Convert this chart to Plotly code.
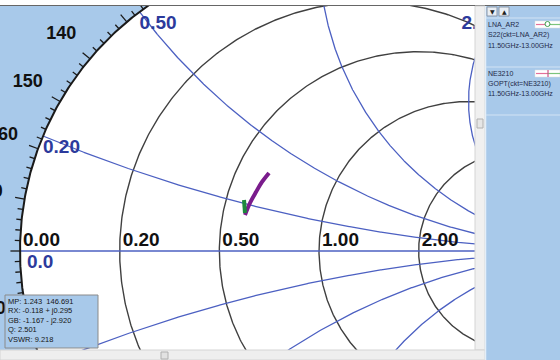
import numpy as np
import plotly.graph_objects as go

# ---------------------------------------------------------------- data
# Smith chart grid values
r_grid = [0.2, 0.5, 1.0, 2.0, 5.0]          # constant-resistance circles
x_grid = [0.2, 0.5, 1.0, 2.0, 5.0]          # constant-reactance arcs (+/-)
r_axis_values = [0.0, 0.2, 0.5, 1.0, 2.0]   # labelled along the real axis
r_axis_labels = ["0.00", "0.20", "0.50", "1.00", "2.00"]
x_label_values = [0.2, 0.5, 2.0]
x_label_texts = ["0.20", "0.50", "2.00"]
angle_label_values = [140, 150, 160, 170, -170]

# S22 of LNA_AR2, 11.5-13 GHz (reflection coefficient, real / imag)
s22_re = [-0.2475, -0.2308, -0.2107, -0.1906, -0.1672]
s22_im = [0.1204, 0.1605, 0.1973, 0.2308, 0.2609]

# GOPT of NE3210, 11.5-13 GHz
gopt_re = [-0.2508, -0.2492, -0.2475]
gopt_im = [0.1706, 0.1505, 0.1271]

legend_entries = [
    ("LNA_AR2", "S22(ckt=LNA_AR2)", "11.50GHz-13.00GHz"),
    ("NE3210", "GOPT(ckt=NE3210)", "11.50GHz-13.00GHz"),
]
readout_lines = [
    "MP: 1.243  146.691",
    "RX: -0.118 + j0.295",
    "GB: -1.167 - j2.920",
    "Q: 2.501",
    "VSWR: 9.218",
]

# ---------------------------------------------------------------- layout constants
W, H = 560, 360
PL, PR, PT, PB = 0, 475, 6, 350      # plot window (px)
CX, CY, RAD = 319, 251, 299          # chart centre / unit radius (px)
PX = 1.0 / RAD                       # one pixel in reflection units

BLUE_BG = "#a8c9ea"
X_COLOR = "#4c60c2"
R_COLOR = "#404040"
LBL_BLUE = "#2c3a9c"


def fx(p):
    return p / W


def fy(p):
    return 1 - p / H


def gamma(z):
    return (z - 1) / (z + 1)


fig = go.Figure()

# constant-resistance circles
rx, ry = [], []
th = np.linspace(0, 2 * np.pi, 721)
for r in r_grid:
    c, rr = r / (1 + r), 1 / (1 + r)
    rx += list(c + rr * np.cos(th)) + [None]
    ry += list(rr * np.sin(th)) + [None]
fig.add_trace(go.Scatter(x=rx, y=ry, mode="lines",
                         line=dict(color=R_COLOR, width=1.4), hoverinfo="skip"))

# constant-reactance arcs and the real axis
xx, xy = [-1, 1, None], [0, 0, None]
t = np.linspace(0, np.pi / 2 - 1e-4, 900)
for xv in x_grid:
    for s in (1, -1):
        g = gamma(np.tan(t) + 1j * s * xv)
        xx += list(g.real) + [None]
        xy += list(g.imag) + [None]
fig.add_trace(go.Scatter(x=xx, y=xy, mode="lines",
                         line=dict(color=X_COLOR, width=1.3), hoverinfo="skip"))

# outer boundary
fig.add_trace(go.Scatter(x=np.cos(th), y=np.sin(th), mode="lines",
                         line=dict(color="#1a1a1a", width=2), hoverinfo="skip"))

# angle ticks every 2 degrees, longer every 10
tx, ty = [], []
for d in range(0, 360, 2):
    a = np.radians(d)
    ln = 0.032 if d % 10 == 0 else 0.018
    tx += [np.cos(a), (1 + ln) * np.cos(a), None]
    ty += [np.sin(a), (1 + ln) * np.sin(a), None]
fig.add_trace(go.Scatter(x=tx, y=ty, mode="lines",
                         line=dict(color="#1a1a1a", width=1.3), hoverinfo="skip"))

# measured traces
fig.add_trace(go.Scatter(x=s22_re, y=s22_im, mode="lines", name="LNA_AR2",
                         line=dict(color="#7a1c8c", width=4, shape="spline")))
fig.add_trace(go.Scatter(x=gopt_re, y=gopt_im, mode="lines", name="NE3210",
                         line=dict(color="#1d8a3c", width=4)))

# resistance labels on the real axis
lx, ly = [], []
for r in r_axis_values:
    lx.append((r - 1) / (r + 1) + 3 * PX)
    ly.append(0)
fig.add_trace(go.Scatter(x=lx, y=ly, mode="text", text=[f"<b>{s}</b>" for s in r_axis_labels],
                         textposition="top right",
                         textfont=dict(family="Arial", size=19, color="#111111"),
                         hoverinfo="skip"))

# reactance labels at the boundary
kx, ky, kp = [], [], []
for xv in x_label_values:
    g = gamma(1j * xv)
    kx.append(g.real)
    ky.append(g.imag - 3 * PX)
    kp.append("bottom right" if g.real < 0 else "bottom left")
kx.append(-1 + 7 * PX)
ky.append(-3 * PX)
kp.append("bottom right")
fig.add_trace(go.Scatter(x=kx, y=ky, mode="text",
                         text=[f"<b>{s}</b>" for s in x_label_texts + ["0.0"]],
                         textposition=kp,
                         textfont=dict(family="Arial", size=19, color=LBL_BLUE),
                         hoverinfo="skip"))

# angle labels outside the chart
ax_, ay_ = [], []
for d in angle_label_values:
    a = np.radians(d)
    ax_.append(1.125 * np.cos(a))
    ay_.append(1.125 * np.sin(a))
fig.add_trace(go.Scatter(x=ax_, y=ay_, mode="text",
                         text=[f"<b>{d}</b>" for d in angle_label_values],
                         textposition="middle center",
                         textfont=dict(family="Arial", size=18, color="#111111"),
                         hoverinfo="skip"))

shapes = [
    # inside of the chart
    dict(type="circle", xref="x", yref="y", x0=-1, y0=-1, x1=1, y1=1,
         fillcolor="white", line=dict(width=0), layer="below"),
    # top frame line
    dict(type="line", xref="paper", yref="paper", x0=0, x1=1, y0=fy(5.5), y1=fy(5.5),
         line=dict(color="#666666", width=1.2), layer="above"),
    # vertical scrollbar
    dict(type="rect", xref="paper", yref="paper", x0=fx(475), x1=fx(485), y0=fy(350), y1=fy(6),
         fillcolor="#f0f0f0", line=dict(color="#d4d4d4", width=1), layer="above"),
    dict(type="rect", xref="paper", yref="paper", x0=fx(477), x1=fx(483), y0=fy(128), y1=fy(119),
         fillcolor="#e6e6e6", line=dict(color="#b0b0b0", width=1), layer="above"),
    # horizontal scrollbar
    dict(type="rect", xref="paper", yref="paper", x0=0, x1=fx(485), y0=0, y1=fy(350),
         fillcolor="#eeeeee", line=dict(color="#d4d4d4", width=1), layer="above"),
    dict(type="rect", xref="paper", yref="paper", x0=fx(161), x1=fx(168), y0=fy(359), y1=fy(352),
         fillcolor="#e2e2e2", line=dict(color="#b0b0b0", width=1), layer="above"),
    # legend panel
    dict(type="rect", xref="paper", yref="paper", x0=fx(485), x1=1, y0=0, y1=fy(6),
         fillcolor=BLUE_BG, line=dict(width=0), layer="above"),
    dict(type="line", xref="paper", yref="paper", x0=fx(485.5), x1=fx(485.5), y0=0, y1=fy(6),
         line=dict(color="#e4eef8", width=1.5), layer="above"),
    # info box
    dict(type="rect", xref="paper", yref="paper", x0=fx(5), x1=fx(98), y0=fy(348), y1=fy(295),
         fillcolor=BLUE_BG, line=dict(color="#8a8a8a", width=1), layer="above"),
]
for yy in (18, 67, 115):
    shapes.append(dict(type="line", xref="paper", yref="paper", x0=fx(486), x1=1,
                       y0=fy(yy), y1=fy(yy), line=dict(color="#d2e3f4", width=1.2),
                       layer="above"))
# panel buttons
for x0 in (487, 499):
    shapes.append(dict(type="rect", xref="paper", yref="paper", x0=fx(x0), x1=fx(x0 + 10),
                       y0=fy(16), y1=fy(7), fillcolor="#e9eef4",
                       line=dict(color="#8c97a6", width=1), layer="above"))
# legend swatches
for top, col_left, col_right in ((21, "#e4709a", "#7cc47c"), (70, "#e4709a", "#7cc47c")):
    shapes.append(dict(type="rect", xref="paper", yref="paper", x0=fx(535), x1=fx(560),
                       y0=fy(top + 7), y1=fy(top), fillcolor="white",
                       line=dict(color="#dddddd", width=0.5), layer="above"))
    shapes.append(dict(type="line", xref="paper", yref="paper", x0=fx(536), x1=fx(547),
                       y0=fy(top + 3.5), y1=fy(top + 3.5), line=dict(color=col_left, width=1.2),
                       layer="above"))
    shapes.append(dict(type="line", xref="paper", yref="paper", x0=fx(547), x1=fx(560),
                       y0=fy(top + 3.5), y1=fy(top + 3.5), line=dict(color=col_right, width=1.2),
                       layer="above"))
shapes.append(dict(type="circle", xref="paper", yref="paper", x0=fx(545), x1=fx(550),
                   y0=fy(26.5), y1=fy(21.5), fillcolor="white",
                   line=dict(color="#3f9f4f", width=1), layer="above"))
shapes.append(dict(type="line", xref="paper", yref="paper", x0=fx(548), x1=fx(548),
                   y0=fy(77), y1=fy(70), line=dict(color="#d0508a", width=1.2), layer="above"))

annotations = []
for i, (a, b, c) in enumerate(legend_entries):
    base = 25 if i == 0 else 74
    for k, s in enumerate((a, b, c)):
        annotations.append(dict(xref="paper", yref="paper", x=fx(487), y=fy(base + 10 * k),
                                text=s, showarrow=False, xanchor="left", yanchor="middle",
                                borderpad=0,
                                font=dict(family="Arial", size=7, color="#1f2a48")))
for x0, sym in ((492, "▼"), (504, "▲")):
    annotations.append(dict(xref="paper", yref="paper", x=fx(x0), y=fy(11.5), text=sym,
                            showarrow=False, xanchor="center", yanchor="middle",
                            borderpad=0,
                            font=dict(family="DejaVu Sans", size=6, color="#222222")))
for k, s in enumerate(readout_lines):
    annotations.append(dict(xref="paper", yref="paper", x=fx(7), y=fy(301 + 9.6 * k),
                            text=s, showarrow=False, xanchor="left", yanchor="middle",
                            borderpad=0,
                            font=dict(family="Arial", size=7.5, color="#151515")))

fig.update_layout(
    width=W, height=H,
    margin=dict(l=0, r=0, t=0, b=0),
    paper_bgcolor="white",
    plot_bgcolor=BLUE_BG,
    showlegend=False,
    xaxis=dict(domain=[fx(PL), fx(PR)], range=[(PL - CX) * PX, (PR - CX) * PX],
               showgrid=False, zeroline=False, showticklabels=False, ticks="",
               fixedrange=True),
    yaxis=dict(domain=[fy(PB), fy(PT)], range=[(CY - PB) * PX, (CY - PT) * PX],
               showgrid=False, zeroline=False, showticklabels=False, ticks="",
               fixedrange=True),
    shapes=shapes,
    annotations=annotations,
)

fig.write_html("out.html")
